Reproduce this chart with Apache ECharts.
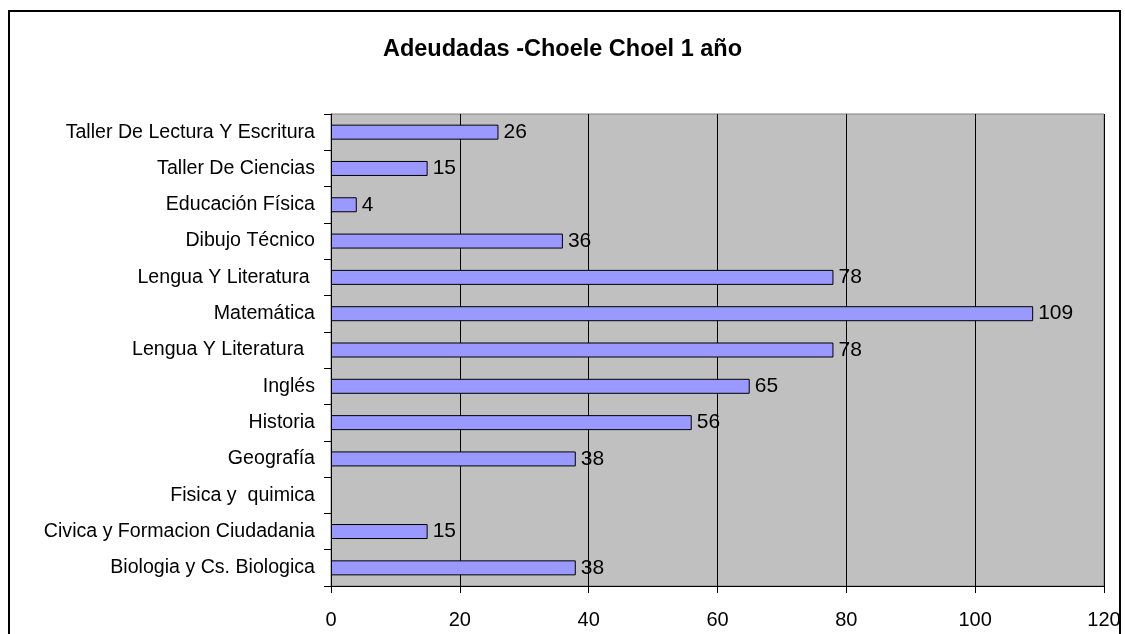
<!DOCTYPE html>
<html>
<head>
<meta charset="UTF-8">
<title>Adeudadas</title>
<script src="https://cdn.jsdelivr.net/npm/echarts@6/dist/echarts.min.js"></script>
<style>
  html, body { margin: 0; padding: 0; background: #fff; }
  #chart { width: 1125px; height: 634px; }
</style>
</head>
<body>
<div id="chart"></div>
<script>
// materias, de arriba hacia abajo
const materias = [
    'Taller De Lectura Y Escritura',
    'Taller De Ciencias',
    'Educación Física',
    'Dibujo Técnico',
    'Lengua Y Literatura ',
    'Matemática',
    'Lengua Y Literatura  ',
    'Inglés',
    'Historia',
    'Geografía',
    'Fisica y  quimica',
    'Civica y Formacion Ciudadania',
    'Biologia y Cs. Biologica'
];
const adeudadas = [26, 15, 4, 36, 78, 109, 78, 65, 56, 38, null, 15, 38];
const ticksX = [0, 20, 40, 60, 80, 100, 120];

const chart = echarts.init(document.getElementById('chart'));
const font = 'Liberation Sans, Arial, sans-serif';

chart.setOption({
    animation: false,
    backgroundColor: '#fff',
    title: {
        text: 'Adeudadas -Choele Choel 1 año',
        left: 'center',
        top: 33,
        textStyle: { fontFamily: font, fontSize: 23.5, fontWeight: 'bold', color: '#000' }
    },
    graphic: [{
        type: 'rect',
        shape: { x: 9, y: 11, width: 1111, height: 700 },
        style: { fill: 'none', stroke: '#000', lineWidth: 2 },
        silent: true
    }],
    grid: {
        left: 331, right: 21, top: 114, bottom: 48,
        show: true,
        backgroundColor: '#C0C0C0',
        borderColor: '#808080',
        borderWidth: 1
    },
    xAxis: {
        type: 'value',
        min: ticksX[0],
        max: ticksX[ticksX.length - 1],
        interval: 20,
        axisLine: { show: true, lineStyle: { color: '#000', width: 1 } },
        axisTick: { show: true, length: 7, lineStyle: { color: '#000' } },
        splitLine: { show: true, lineStyle: { color: '#000', width: 1 } },
        axisLabel: { margin: 24, fontFamily: font, fontSize: 20, color: '#000' }
    },
    yAxis: {
        type: 'category',
        inverse: true,
        data: materias,
        axisLine: { show: true, lineStyle: { color: '#000', width: 1 } },
        axisTick: { show: true, length: 7, alignWithLabel: false, lineStyle: { color: '#000' } },
        axisLabel: { margin: 16, fontFamily: font, fontSize: 19.6, color: '#000' }
    },
    series: [{
        type: 'bar',
        data: adeudadas,
        barWidth: 15,
        itemStyle: { color: '#9999FF', borderColor: '#000', borderWidth: 1 },
        label: {
            show: true,
            position: 'right',
            distance: 5,
            fontFamily: font,
            fontSize: 21,
            color: '#000'
        }
    }]
});
</script>
</body>
</html>
